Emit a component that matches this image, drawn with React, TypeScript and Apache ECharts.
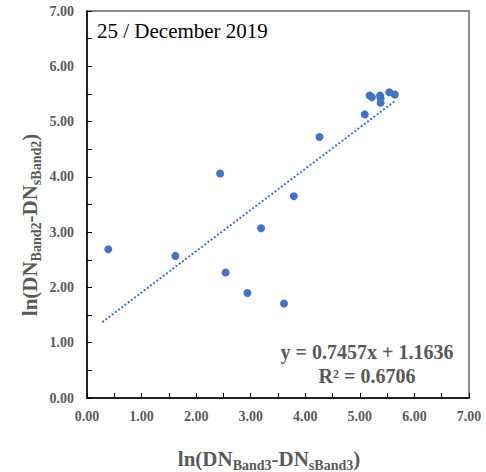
import React, { useEffect, useRef } from "react";
import * as echarts from "echarts";

const xValues = [0.39, 1.62, 2.44, 2.54, 2.94, 3.19, 3.61, 3.79, 4.26, 5.09, 5.18, 5.22, 5.37, 5.38, 5.38, 5.54, 5.64];
const yValues = [2.69, 2.57, 4.06, 2.27, 1.90, 3.07, 1.71, 3.65, 4.72, 5.13, 5.47, 5.44, 5.47, 5.42, 5.34, 5.53, 5.49];
const trendSlope = 0.7457;
const trendIntercept = 1.1636;
const trendStartX = 0.28;
const trendEndX = 5.65;
const axisMin = 0;
const axisMax = 7;
const tickStep = 0.5;
const dateLabel = "25 / December 2019";
const equationLines = ["y = 0.7457x + 1.1636", "R² = 0.6706"];

const FONT = "'Liberation Serif', 'Times New Roman', serif";
const GRAY = "#595959";
const BLUE = "#4472C4";

export default function App() {
  const ref = useRef<HTMLDivElement>(null);
  useEffect(() => {
    if (!ref.current) return;
    const chart = echarts.init(ref.current, null, { renderer: "svg" });
    const points = xValues.map((x, i) => [x, yValues[i]]);
    const trend = [trendStartX, trendEndX].map((x) => [x, trendSlope * x + trendIntercept]);
    const labelFmt = (v: number) => (Math.abs(v - Math.round(v)) < 1e-6 ? v.toFixed(2) : "");
    const axisCommon = {
      type: "value",
      min: axisMin,
      max: axisMax,
      interval: tickStep,
      splitLine: { show: false },
      axisLine: { show: true, lineStyle: { color: "#000", width: 1.5 } },
      axisTick: { show: true, inside: true, length: 5, lineStyle: { color: "#000", width: 1 } },
    };
    const rich = {
      m: { fontFamily: FONT, fontSize: 21, fontWeight: "bold", fill: GRAY, color: GRAY, lineHeight: 27, verticalAlign: "middle" },
      s: { fontFamily: FONT, fontSize: 14, fontWeight: "bold", fill: GRAY, color: GRAY, lineHeight: 14, verticalAlign: "bottom" },
    };
    chart.setOption({
      animation: false,
      backgroundColor: "#fff",
      grid: { left: 87, right: 17, top: 11, bottom: 74, show: true, borderColor: "#8c8c8c", borderWidth: 2, backgroundColor: "transparent" },
      xAxis: {
        ...axisCommon,
        axisLabel: { formatter: labelFmt, fontFamily: FONT, fontSize: 14, fontWeight: "bold", color: GRAY, margin: 11, showMaxLabel: true, showMinLabel: true },
      },
      yAxis: {
        ...axisCommon,
        axisLabel: { formatter: labelFmt, fontFamily: FONT, fontSize: 14, fontWeight: "bold", color: GRAY, margin: 13, showMaxLabel: true, showMinLabel: true },
      },
      series: [
        {
          type: "scatter",
          data: points,
          symbolSize: 8,
          itemStyle: { color: BLUE, opacity: 1 },
          z: 3,
        },
        {
          type: "line",
          data: trend,
          showSymbol: false,
          symbol: "none",
          lineStyle: { color: BLUE, width: 2, type: [2, 2] },
          z: 2,
        },
      ],
      graphic: [
        {
          type: "text",
          x: 97,
          y: 31,
          style: { text: dateLabel, fontFamily: FONT, fontSize: 21, fill: "#000", align: "left", verticalAlign: "middle" },
        },
        {
          type: "text",
          x: 367,
          y: 364,
          style: { text: equationLines.join("\n"), fontFamily: FONT, fontSize: 20, fontWeight: "bold", lineHeight: 24, fill: GRAY, align: "center", verticalAlign: "middle" },
        },
        {
          type: "text",
          x: 269,
          y: 459,
          style: { text: "{m|ln(DN}{s|Band3}{m|-DN}{s|sBand3}{m|)}", rich, fill: GRAY, align: "center", verticalAlign: "middle" },
        },
        {
          type: "text",
          x: 30,
          y: 225,
          rotation: Math.PI / 2,
          style: { text: "{m|ln(DN}{s|Band2}{m|-DN}{s|sBand2}{m|)}", rich, fill: GRAY, align: "center", verticalAlign: "middle" },
        },
      ],
    });
    return () => chart.dispose();
  }, []);
  return <div ref={ref} style={{ position: "fixed", left: 0, top: 0, width: 486, height: 472, background: "#fff" }} />;
}
